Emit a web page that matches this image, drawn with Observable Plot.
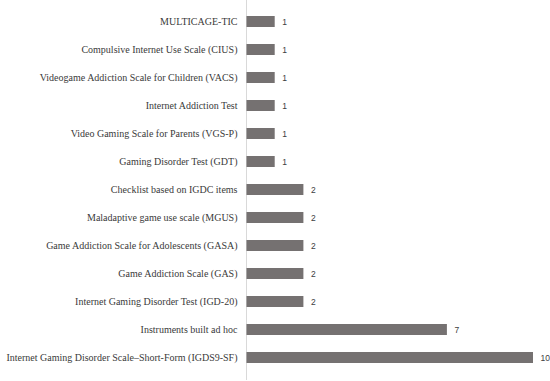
<!DOCTYPE html>
<html>
<head>
<meta charset="utf-8">
<script src="https://cdn.jsdelivr.net/npm/d3@7"></script>
<script src="https://cdn.jsdelivr.net/npm/@observablehq/plot@0.6"></script>
<style>
  html, body { margin: 0; padding: 0; background: #fff; }
  #chart svg { display: block; }
</style>
</head>
<body>
<div id="chart"></div>
<script>
const instruments = [
  "MULTICAGE-TIC",
  "Compulsive Internet Use Scale (CIUS)",
  "Videogame Addiction Scale for Children (VACS)",
  "Internet Addiction Test",
  "Video Gaming Scale for Parents (VGS-P)",
  "Gaming Disorder Test (GDT)",
  "Checklist based on IGDC items",
  "Maladaptive game use scale (MGUS)",
  "Game Addiction Scale for Adolescents (GASA)",
  "Game Addiction Scale (GAS)",
  "Internet Gaming Disorder Test (IGD-20)",
  "Instruments built ad hoc",
  "Internet Gaming Disorder Scale–Short-Form (IGDS9-SF)"
];
const counts = [1, 1, 1, 1, 1, 1, 2, 2, 2, 2, 2, 7, 10];

const data = instruments.map((name, i) => ({name, count: counts[i]}));

const chart = Plot.plot({
  width: 550,
  height: 381,
  marginLeft: 246,
  marginRight: 17,
  marginTop: 0,
  marginBottom: 1,
  style: {background: "#fff"},
  x: {domain: [0, 10], axis: null},
  y: {domain: instruments, paddingInner: 0.6, paddingOuter: 0.41, label: null},
  marks: [
    Plot.axisY({
      tickSize: 0,
      tickPadding: 9,
      label: null,
      fontFamily: "Liberation Serif",
      fontSize: 10,
      fill: "#3a3a3a"
    }),
    Plot.ruleX([0], {stroke: "#d9d9d9", strokeWidth: 1}),
    Plot.barX(data, {x: "count", y: "name", fill: "#757171", insetLeft: 0.5}),
    Plot.text(data, {
      x: "count", y: "name", text: d => String(d.count),
      textAnchor: "start", dx: 7,
      fontFamily: "Liberation Sans", fontSize: 8.5, fill: "#404040"
    })
  ]
});
document.getElementById("chart").appendChild(chart);
</script>
</body>
</html>
